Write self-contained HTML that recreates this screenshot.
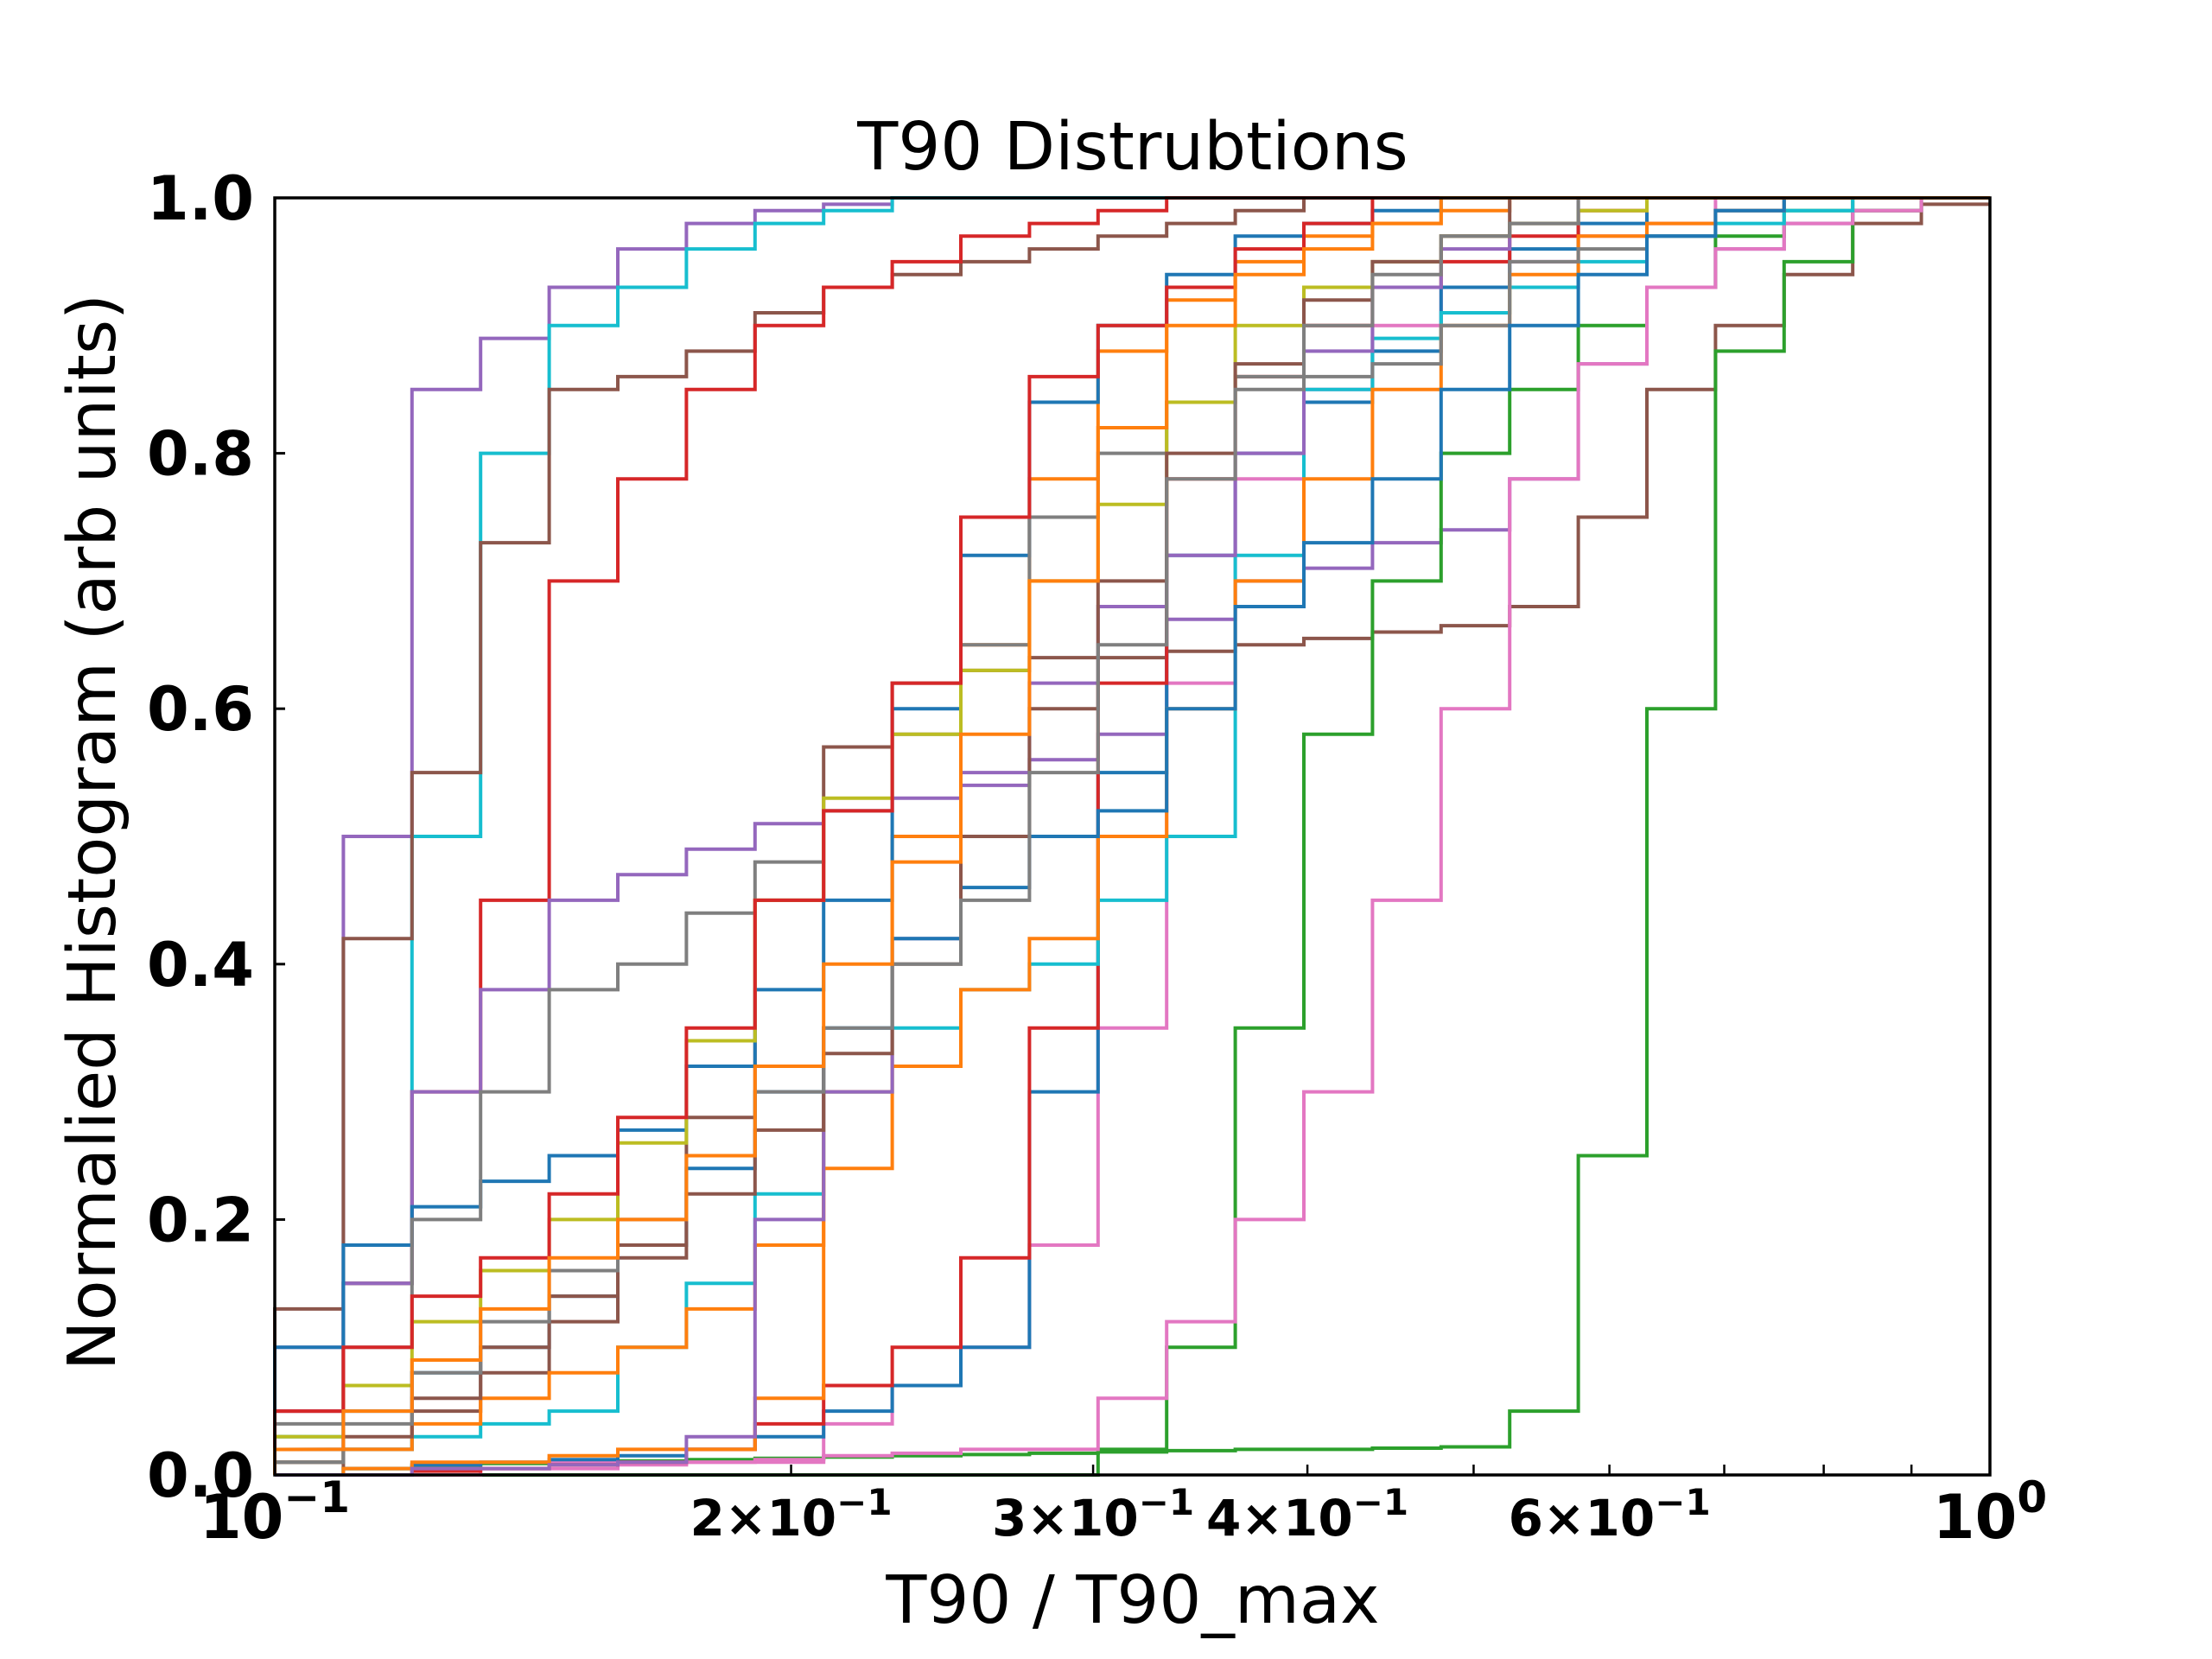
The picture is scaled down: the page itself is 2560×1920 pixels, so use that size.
<!DOCTYPE html>
<html><head><meta charset="utf-8"><style>
html,body{margin:0;padding:0;background:#fff}
svg{display:block}
text{font-family:"DejaVu Sans","Liberation Sans",sans-serif}
</style></head><body>
<svg id="chart" width="2560" height="1920" viewBox="0 0 2560 1920" xmlns="http://www.w3.org/2000/svg">
<rect width="2560" height="1920" fill="#fff"/>
<text x="1311" y="196" font-size="77" text-anchor="middle">T90 Distrubtions</text>
<g id="series"></g>
<rect x="318" y="229" width="1985" height="1478" fill="none" stroke="#000" stroke-width="3.5"/>
<g id="axes"></g>
<text x="1311" y="1878" font-size="77" text-anchor="middle">T90 / T90_max</text>
<text transform="translate(133,963) rotate(-90)" font-size="77" text-anchor="middle">Normalied Histogram (arb units)</text>
</svg>
<script>
const yTicks = [0.0, 0.2, 0.4, 0.6, 0.8, 1.0];
const yTickLabels = ["0.0", "0.2", "0.4", "0.6", "0.8", "1.0"];
const xMajor = [0.1, 1.0];
const xMajorBase = ["10", "10"];
const xMajorExp = ["\u22121", "0"];
const xMinor = [0.2, 0.3, 0.4, 0.5, 0.6, 0.7, 0.8, 0.9];
const xMinorLabeled = [0.2, 0.3, 0.4, 0.6];
const xMinorLabels = ["2", "3", "4", "6"];
const nBins = 25;
const seriesColors = ["#9467bd","#17becf","#8c564b","#d62728","#9467bd","#8c564b","#2ca02c","#2ca02c","#e377c2","#e377c2","#1f77b4","#d62728","#17becf","#ff7f0e","#ff7f0e","#9467bd","#1f77b4","#7f7f7f","#bcbd22","#d62728","#1f77b4","#8c564b","#7f7f7f","#ff7f0e"];
const s01 = [0.1,0.5,0.85,0.89,0.93,0.96,0.98,0.99,0.995];
const s02 = [0.03,0.15,0.5,0.8,0.9,0.93,0.96,0.98,0.99];
const s03 = [0.13,0.42,0.55,0.73,0.85,0.86,0.88,0.91,0.93,0.94,0.95,0.96,0.97,0.98,0.99];
const s04 = [0.05,0.15,0.3,0.45,0.7,0.78,0.85,0.9,0.93,0.95,0.97,0.98,0.99];
const s05 = [0.05,0.15,0.3,0.38,0.45,0.47,0.49,0.51,0.52,0.53,0.54,0.56,0.58,0.67,0.7,0.71,0.73,0.74,0.78,0.87,0.93,0.96,0.98,0.99];
const s06 = [0.0,0.02,0.05,0.08,0.12,0.17,0.28,0.45,0.57,0.62,0.63,0.64,0.64,0.645,0.65,0.655,0.66,0.665,0.68,0.75,0.85,0.9,0.94,0.98,0.995];
const s07 = [0.0,0.005,0.007,0.009,0.01,0.011,0.012,0.013,0.014,0.015,0.016,0.017,0.018,0.019,0.02,0.02,0.021,0.022,0.05,0.25,0.6,0.88,0.95,0.99,1.0];
const s08 = [0,0,0,0,0,0,0,0,0,0,0,0,0.02,0.1,0.35,0.58,0.7,0.8,0.85,0.9,0.93,0.97,0.99];
const s09 = [0,0,0,0.005,0.005,0.008,0.01,0.012,0.015,0.017,0.02,0.02,0.06,0.12,0.2,0.3,0.45,0.6,0.78,0.87,0.93,0.96,0.98,0.99];
const s10 = [0.0,0.0,0.005,0.005,0.01,0.01,0.01,0.01,0.04,0.07,0.1,0.18,0.35,0.62,0.78,0.85,0.9,0.93,0.95,0.97,0.98];
const s11 = [0.0,0.005,0.008,0.01,0.012,0.015,0.02,0.03,0.05,0.07,0.1,0.3,0.55,0.72,0.8,0.84,0.88,0.93,0.96,0.98];
const s12 = [0.0,0.0,0.003,0.005,0.008,0.01,0.02,0.04,0.07,0.1,0.17,0.35,0.62,0.78,0.86,0.9,0.93,0.95,0.97,0.99];
const s13 = [0.01,0.02,0.03,0.04,0.05,0.1,0.15,0.22,0.3,0.35,0.38,0.4,0.45,0.5,0.72,0.85,0.89,0.91,0.93,0.95,0.97,0.98,0.99];
const s14 = [0.01,0.02,0.04,0.06,0.08,0.1,0.13,0.18,0.24,0.32,0.38,0.42,0.5,0.6,0.7,0.78,0.85,0.9,0.94,0.97,0.98,0.99];
const s15 = [0.0,0.005,0.01,0.01,0.015,0.02,0.02,0.06,0.3,0.5,0.65,0.78,0.88,0.92,0.95,0.97,0.98,0.99];
const s16 = [0.0,0.0,0.005,0.005,0.008,0.01,0.03,0.2,0.3,0.42,0.55,0.62,0.68,0.72,0.8,0.88,0.93,0.96,0.98];
const s17 = [0.1,0.18,0.21,0.23,0.25,0.27,0.32,0.38,0.45,0.6,0.72,0.84,0.9,0.94,0.97,0.98,0.99];
const s18 = [0.04,0.1,0.2,0.3,0.38,0.4,0.44,0.48,0.52,0.58,0.65,0.75,0.8,0.84,0.86,0.86,0.87,0.9,0.95,0.96,0.97,0.99];
const s19 = [0.03,0.07,0.12,0.16,0.2,0.26,0.34,0.45,0.53,0.58,0.63,0.7,0.76,0.84,0.9,0.93,0.95,0.97,0.98,0.99];
const s20 = [0.05,0.1,0.14,0.17,0.22,0.28,0.35,0.45,0.52,0.62,0.75,0.86,0.9,0.93,0.96,0.98];
const s21 = [0.02,0.05,0.08,0.1,0.14,0.18,0.24,0.3,0.35,0.42,0.46,0.5,0.52,0.6,0.68,0.73,0.78,0.85,0.9,0.94,0.97,0.99];
const s22 = [0.01,0.03,0.06,0.1,0.14,0.18,0.22,0.27,0.33,0.4,0.5,0.6,0.7,0.8,0.87,0.92,0.95,0.97];
const s23 = [0.01,0.04,0.08,0.12,0.16,0.2,0.25,0.3,0.35,0.4,0.45,0.55,0.65,0.78,0.85,0.9,0.94,0.97,0.98];
const s24 = [0.02,0.05,0.09,0.13,0.17,0.2,0.25,0.32,0.4,0.48,0.58,0.7,0.82,0.9,0.94,0.96,0.98];
const allSeries = [s01,s02,s03,s04,s05,s06,s07,s08,s09,s10,s11,s12,s13,s14,s15,s16,s17,s18,s19,s20,s21,s22,s23,s24];

const L=318,R=2303,T=229,B=1707;
const NS="http://www.w3.org/2000/svg";
function xs(v){return L+(Math.log10(v)+1)*(R-L);}
function xsLog(lg){return L+(lg+1)*(R-L);}
function ys(v){return B-v*(B-T);}
function mk(tag,attrs,parent){const e=document.createElementNS(NS,tag);for(const k in attrs)e.setAttribute(k,attrs[k]);parent.appendChild(e);return e;}

const sg=document.getElementById('series');
allSeries.forEach((arr,i)=>{
  const vals=[];
  for(let k=0;k<nBins;k++) vals.push(k<arr.length?arr[k]:1);
  let d="M"+xsLog(-1)+","+ys(0)+" L"+xsLog(-1)+","+ys(vals[0]);
  for(let k=0;k<nBins;k++){
    const x1=xsLog(-1+(k+1)/nBins);
    d+=" L"+x1.toFixed(1)+","+ys(vals[k]).toFixed(1);
    if(k+1<nBins) d+=" L"+x1.toFixed(1)+","+ys(vals[k+1]).toFixed(1);
  }
  const p=mk('path',{d:d,fill:'none',stroke:seriesColors[i],'stroke-width':4},sg);
  
  
});

const ag=document.getElementById('axes');
yTicks.forEach((v,i)=>{
  const t=mk('text',{x:294,y:ys(v)+25,'font-size':70,'font-weight':'bold','text-anchor':'end'},ag);
  t.textContent=yTickLabels[i];
  
  
  const l=mk('line',{x1:L,x2:L+12,y1:ys(v),y2:ys(v),stroke:'#000','stroke-width':3},ag);
  
  
});
xMinor.forEach(v=>{
  const l=mk('line',{x1:xs(v),x2:xs(v),y1:B,y2:B-12,stroke:'#000','stroke-width':2.5},ag);
  
  
});
xMajor.forEach((v,i)=>{
  const t=mk('text',{x:xs(v),y:1780,'font-size':70,'font-weight':'bold','text-anchor':'middle'},ag);
  
  
  const b=document.createElementNS(NS,'tspan');b.textContent=xMajorBase[i];t.appendChild(b);
  const e=document.createElementNS(NS,'tspan');e.setAttribute('dy','-30');e.setAttribute('font-size','50');e.textContent=xMajorExp[i];t.appendChild(e);
});
xMinorLabeled.forEach((v,i)=>{
  const t=mk('text',{x:xs(v),y:1777,'font-size':58,'font-weight':'bold','text-anchor':'middle'},ag);
  
  
  const b=document.createElementNS(NS,'tspan');b.textContent=xMinorLabels[i]+"\u00d710";t.appendChild(b);
  const e=document.createElementNS(NS,'tspan');e.setAttribute('dy','-24');e.setAttribute('font-size','42');e.textContent="\u22121";t.appendChild(e);
});
</script>
</body></html>
